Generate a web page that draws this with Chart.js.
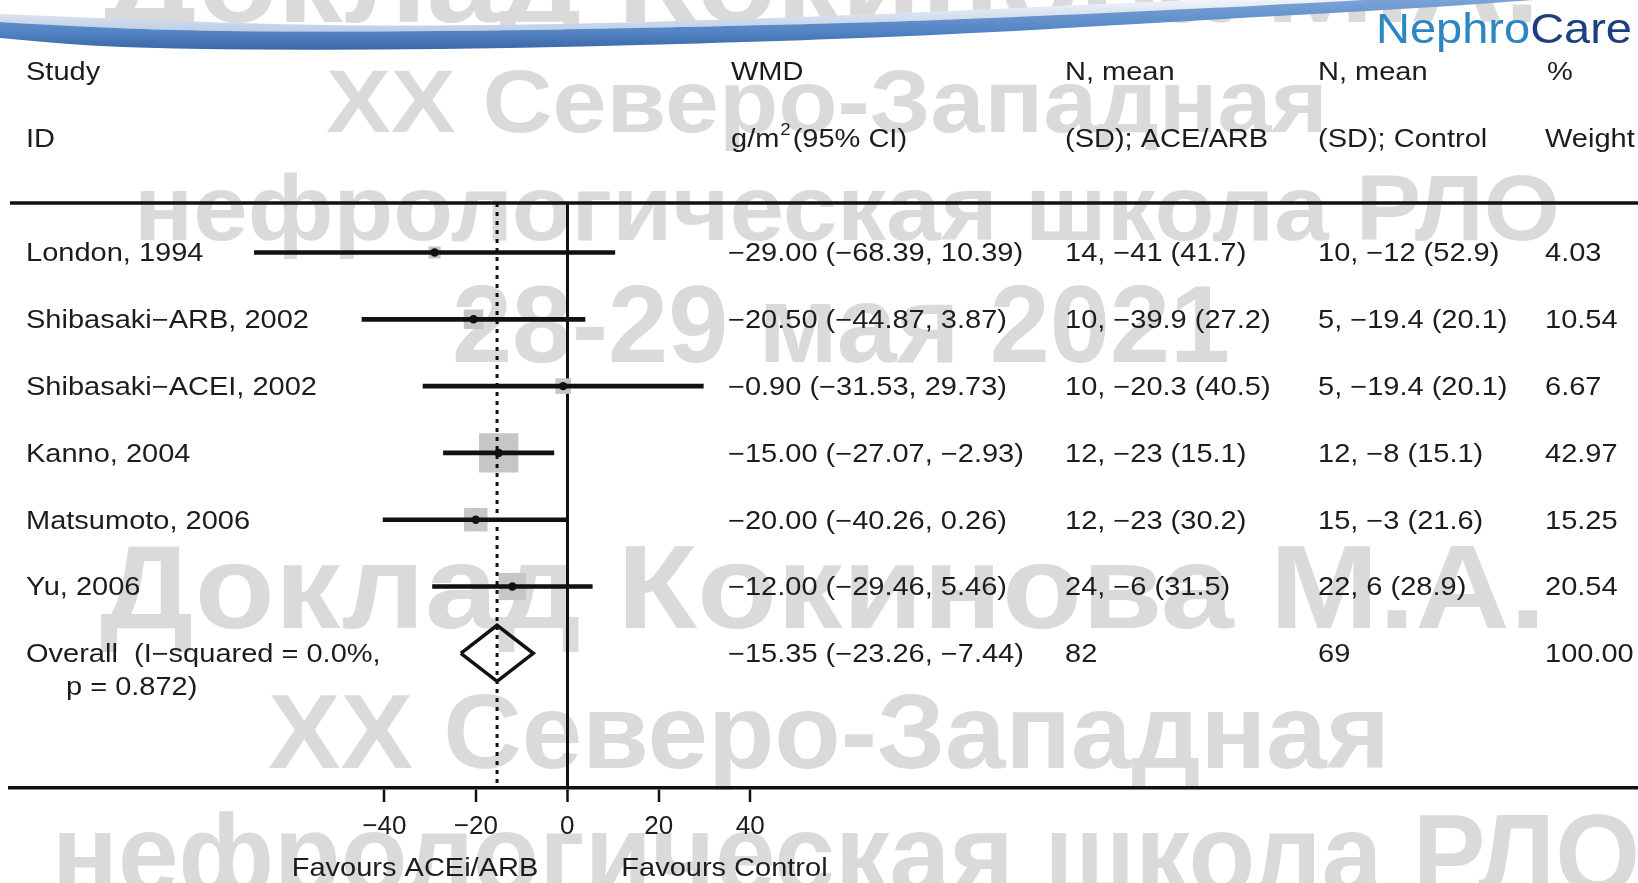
<!DOCTYPE html>
<html>
<head>
<meta charset="utf-8">
<title>LVMI meta-analysis: ACEi/ARB vs control</title>
<script src="https://cdn.jsdelivr.net/npm/chart.js@4.4.1/dist/chart.umd.min.js"></script>
<style>
  html, body { margin: 0; padding: 0; background: #ffffff; }
  #wrap { width: 1638px; height: 883px; position: relative; overflow: hidden; }
  canvas { display: block; }
</style>
</head>
<body>
<div id="wrap"><canvas id="forest" width="1638" height="883"></canvas></div>
<script>
// ---- study data ----------------------------------------------------------
const studies   = ['London, 1994', 'Shibasaki\u2212ARB, 2002', 'Shibasaki\u2212ACEI, 2002',
                   'Kanno, 2004', 'Matsumoto, 2006', 'Yu, 2006'];
const wmd       = [-29.00, -20.50, -0.90, -15.00, -20.00, -12.00];
const ciLow     = [-68.39, -44.87, -31.53, -27.07, -40.26, -29.46];
const ciHigh    = [ 10.39,   3.87,  29.73,  -2.93,   0.26,   5.46];
const nTreat    = [14, 10, 10, 12, 12, 24];
const meanTreat = [-41, -39.9, -20.3, -23, -23, -6];
const sdTreat   = [41.7, 27.2, 40.5, 15.1, 30.2, 31.5];
const nCtrl     = [10, 5, 5, 12, 15, 22];
const meanCtrl  = [-12, -19.4, -19.4, -8, -3, 6];
const sdCtrl    = [52.9, 20.1, 20.1, 15.1, 21.6, 28.9];
const weights   = [4.03, 10.54, 6.67, 42.97, 15.25, 20.54];

// pooled (fixed-effect) result
const pooledEst    = -15.35;
const pooledLow    = -23.26;
const pooledHigh   = -7.44;
const pooledNTreat = 82;
const pooledNCtrl  = 69;
const pooledWeight = 100.00;
const pooledLabel  = ['Overall  (I\u2212squared = 0.0%,', 'p = 0.872)'];

const xTicks = [-40, -20, 0, 20, 40];

// ---- layout constants ----------------------------------------------------
const W = 1638, H = 883;
const X_MIN = -121.81, X_MAX = 234.03;      // plot spans the full table width
const Y_MIN = -0.741,  Y_MAX = 8.016;       // rows 0..6, reversed
const DIAMOND_HALF = 0.42;                  // in row units
const SQUARE_K = 4.24;                      // marker radius per sqrt(weight)
const FONT = '"Liberation Sans", Arial, Helvetica, sans-serif';
const TEXT_SIZE = 25, TEXT_SX = 1.16, TEXT_COLOR = '#1c1c1c';
const CAP = 0.716;

const minus = s => String(s).replace(/-/g, '\u2212');
const f2 = v => minus(v.toFixed(2));
const nms = (n, m, s) => `${n}, ${minus(m)} (${s.toFixed(1)})`;

// ---- helpers -------------------------------------------------------------
function txt(ctx, s, x, yMid, align, size, sx) {
  size = size || TEXT_SIZE; sx = sx || TEXT_SX;
  ctx.save();
  ctx.font = `${size}px ${FONT}`;
  ctx.fillStyle = TEXT_COLOR;
  ctx.textAlign = align || 'left';
  ctx.textBaseline = 'alphabetic';
  ctx.translate(x, yMid + size * CAP / 2);
  ctx.scale(sx, 1);
  ctx.fillText(s, 0, 0);
  ctx.restore();
}
function txtWidth(ctx, s, size, sx) {
  ctx.save();
  ctx.font = `${(size || TEXT_SIZE)}px ${FONT}`;
  const w = ctx.measureText(s).width * (sx || TEXT_SX);
  ctx.restore();
  return w;
}
function smoothPath(ctx, pts, moveFirst) {
  if (moveFirst) ctx.moveTo(pts[0][0], pts[0][1]); else ctx.lineTo(pts[0][0], pts[0][1]);
  for (let i = 1; i < pts.length - 1; i++) {
    const mx = (pts[i][0] + pts[i + 1][0]) / 2, my = (pts[i][1] + pts[i + 1][1]) / 2;
    ctx.quadraticCurveTo(pts[i][0], pts[i][1], mx, my);
  }
  const l = pts[pts.length - 1];
  ctx.lineTo(l[0], l[1]);
}

// event watermark lines: text, left, right, cap top, baseline
const watermark = [
  ['\u0414\u043e\u043a\u043b\u0430\u0434 \u041a\u043e\u043a\u0438\u043d\u043e\u0432\u0430 \u041c.\u0410.', 104, 1540, -61, 22],
  ['XX \u0421\u0435\u0432\u0435\u0440\u043e-\u0417\u0430\u043f\u0430\u0434\u043d\u0430\u044f', 326, 1328, 68, 132],
  ['\u043d\u0435\u0444\u0440\u043e\u043b\u043e\u0433\u0438\u0447\u0435\u0441\u043a\u0430\u044f \u0448\u043a\u043e\u043b\u0430 \u0420\u041b\u041e', 134, 1560, 173, 240],
  ['28-29 \u043c\u0430\u044f 2021', 452, 1230, 284, 362],
  ['\u0414\u043e\u043a\u043b\u0430\u0434 \u041a\u043e\u043a\u0438\u043d\u043e\u0432\u0430 \u041c.\u0410.', 100, 1546, 543, 628],
  ['XX \u0421\u0435\u0432\u0435\u0440\u043e-\u0417\u0430\u043f\u0430\u0434\u043d\u0430\u044f', 268, 1390, 692, 768],
  ['\u043d\u0435\u0444\u0440\u043e\u043b\u043e\u0433\u0438\u0447\u0435\u0441\u043a\u0430\u044f \u0448\u043a\u043e\u043b\u0430 \u0420\u041b\u041e', 52, 1640, 812, 893]
];

const backdrop = {
  id: 'backdrop',
  beforeDraw(chart) {
    const ctx = chart.ctx;
    ctx.save();
    ctx.fillStyle = '#ffffff';
    ctx.fillRect(0, 0, W, H);
    // watermark
    for (const [s, l, r, top, base] of watermark) {
      const size = (base - top) / CAP;
      ctx.save();
      ctx.font = `bold ${size}px ${FONT}`;
      const w = ctx.measureText(s).width;
      ctx.translate(l, base);
      ctx.scale((r - l) / w, 1);
      ctx.fillStyle = '#dadada';
      ctx.textAlign = 'left';
      ctx.textBaseline = 'alphabetic';
      ctx.fillText(s, 0, 0);
      ctx.restore();
    }
    // header ribbon
    const hiTop  = [[0, 14], [250, 25], [500, 26], [820, 17], [1100, 4], [1260, -3]];
    const bandTop = [[0, 22], [100, 28], [250, 32], [500, 31], [820, 24], [1000, 18], [1254, 6], [1420, -3]];
    const bandBot = [[1570, -3], [1463, 6], [1254, 17], [1000, 32], [820, 40], [500, 49], [250, 50], [100, 47], [0, 38]];
    let g = ctx.createLinearGradient(0, 0, 0, 34);
    g.addColorStop(0, '#f1f3f8'); g.addColorStop(1, '#b8cae4');
    ctx.beginPath();
    smoothPath(ctx, hiTop, true);
    smoothPath(ctx, bandTop.slice().reverse(), false);
    ctx.closePath();
    ctx.fillStyle = g; ctx.fill();
    g = ctx.createLinearGradient(0, 0, 0, 50);
    g.addColorStop(0, '#7aa4d8'); g.addColorStop(0.6, '#5586c5'); g.addColorStop(1, '#3a66a6');
    ctx.beginPath();
    smoothPath(ctx, bandTop, true);
    smoothPath(ctx, bandBot, false);
    ctx.closePath();
    ctx.fillStyle = g; ctx.fill();
    // logo
    ctx.font = `42px ${FONT}`;
    const wN = ctx.measureText('Nephro').width, wC = ctx.measureText('Care').width;
    const lsx = 256 / (wN + wC);
    ctx.save();
    ctx.translate(1376, 43);
    ctx.scale(lsx, 1);
    ctx.textBaseline = 'alphabetic'; ctx.textAlign = 'left';
    ctx.fillStyle = '#2d86c2'; ctx.fillText('Nephro', 0, 0);
    ctx.fillStyle = '#1d3f7d'; ctx.fillText('Care', wN, 0);
    ctx.restore();
    ctx.restore();
  },
  afterDraw(chart) {
    const ctx = chart.ctx, ca = chart.chartArea, ys = chart.scales.y, xs = chart.scales.x;
    // top rule
    ctx.save();
    ctx.strokeStyle = '#111'; ctx.lineWidth = 3.5;
    ctx.beginPath(); ctx.moveTo(ca.left, ca.top); ctx.lineTo(ca.right, ca.top); ctx.stroke();
    ctx.restore();
    // column headers
    const cStudy = 26, cWmd = 728, cTreat = 1065, cCtrl = 1318, cW = 1545;
    txt(ctx, 'Study', cStudy, 71); txt(ctx, 'ID', cStudy, 138);
    txt(ctx, 'WMD', cWmd + 3, 71);
    let x = cWmd + 3;
    txt(ctx, 'g/m', x, 138); x += txtWidth(ctx, 'g/m');
    txt(ctx, '2', x + 1, 129, 'left', 16); x += txtWidth(ctx, '2', 16) + 3;
    txt(ctx, '(95% CI)', x, 138);
    txt(ctx, 'N, mean', cTreat, 71); txt(ctx, '(SD); ACE/ARB', cTreat, 138);
    txt(ctx, 'N, mean', cCtrl, 71);  txt(ctx, '(SD); Control', cCtrl, 138);
    txt(ctx, '%', cW + 2, 71);       txt(ctx, 'Weight', cW, 138);
    // study rows
    studies.forEach((s, i) => {
      const y = ys.getPixelForValue(i);
      txt(ctx, s, cStudy, y);
      txt(ctx, `${f2(wmd[i])} (${f2(ciLow[i])}, ${f2(ciHigh[i])})`, cWmd, y);
      txt(ctx, nms(nTreat[i], meanTreat[i], sdTreat[i]), cTreat, y);
      txt(ctx, nms(nCtrl[i], meanCtrl[i], sdCtrl[i]), cCtrl, y);
      txt(ctx, weights[i].toFixed(2), cW, y);
    });
    const yp = ys.getPixelForValue(studies.length);
    txt(ctx, pooledLabel[0], cStudy, yp);
    txt(ctx, pooledLabel[1], cStudy + 40, yp + 33);
    txt(ctx, `${f2(pooledEst)} (${f2(pooledLow)}, ${f2(pooledHigh)})`, cWmd, yp);
    txt(ctx, String(pooledNTreat), cTreat, yp);
    txt(ctx, String(pooledNCtrl), cCtrl, yp);
    txt(ctx, pooledWeight.toFixed(2), cW, yp);
    // direction labels
    const x0 = xs.getPixelForValue(0);
    txt(ctx, 'Favours ACEi/ARB', x0 - 29, 867, 'right');
    txt(ctx, 'Favours Control', x0 + 54, 867, 'left');
  }
};

// ---- chart ---------------------------------------------------------------
const rows = studies.map((_, i) => i);
const diamond = [
  { x: pooledLow,  y: studies.length },
  { x: pooledEst,  y: studies.length - DIAMOND_HALF },
  { x: pooledHigh, y: studies.length },
  { x: pooledEst,  y: studies.length + DIAMOND_HALF },
  { x: pooledLow,  y: studies.length }
];

new Chart(document.getElementById('forest'), {
  type: 'scatter',
  data: {
    datasets: [
      { // weight boxes
        type: 'scatter', order: 6,
        data: rows.map(i => ({ x: wmd[i], y: i })),
        pointStyle: 'rect',
        pointRadius: c => SQUARE_K * Math.sqrt(weights[c.dataIndex]),
        backgroundColor: '#c6c6c6', borderWidth: 0
      },
      { // pooled estimate reference line
        type: 'line', order: 5,
        data: [{ x: pooledEst, y: Y_MIN }, { x: pooledEst, y: Y_MAX }],
        borderColor: '#111', borderWidth: 3, borderDash: [4, 5],
        pointRadius: 0, fill: false
      },
      { // confidence intervals
        type: 'bar', order: 4, indexAxis: 'y',
        data: rows.map(i => ({ x: [ciLow[i], ciHigh[i]], y: i })),
        backgroundColor: '#111', borderWidth: 0,
        barThickness: 4, grouped: false
      },
      { // point estimates
        type: 'scatter', order: 3,
        data: rows.map(i => ({ x: wmd[i], y: i })),
        pointStyle: 'circle', pointRadius: 4.2,
        backgroundColor: '#111', borderWidth: 0
      },
      { // pooled diamond
        type: 'line', order: 2,
        data: diamond,
        borderColor: '#111', borderWidth: 3.5, borderJoinStyle: 'miter',
        pointRadius: 0, fill: false, tension: 0
      }
    ]
  },
  options: {
    responsive: false,
    animation: false,
    events: [],
    layout: { autoPadding: false, padding: { left: 10, right: 0, top: 203, bottom: 0 } },
    plugins: { legend: { display: false }, tooltip: { enabled: false } },
    scales: {
      x: {
        type: 'linear', position: 'bottom', offset: false,
        min: X_MIN, max: X_MAX,
        afterBuildTicks: s => { s.ticks = xTicks.map(v => ({ value: v })); },
        afterFit: s => { s.height = H - 788; },
        border: { display: true, color: '#111', width: 3.5 },
        grid: {
          offset: false,
          drawOnChartArea: true, drawTicks: true,
          color: c => (c.tick && c.tick.value === 0) ? '#111' : 'rgba(0,0,0,0)',
          lineWidth: c => (c.tick && c.tick.value === 0) ? 3 : 0,
          tickColor: '#111', tickWidth: 2.5, tickLength: 14
        },
        ticks: {
          font: { family: FONT, size: 26 }, color: TEXT_COLOR, padding: 9,
          maxRotation: 0, autoSkip: false,
          callback: v => minus(v)
        }
      },
      y: {
        type: 'linear', display: false, reverse: true, offset: false,
        grid: { offset: false },
        min: Y_MIN, max: Y_MAX
      }
    }
  },
  plugins: [backdrop]
});
</script>
</body>
</html>
